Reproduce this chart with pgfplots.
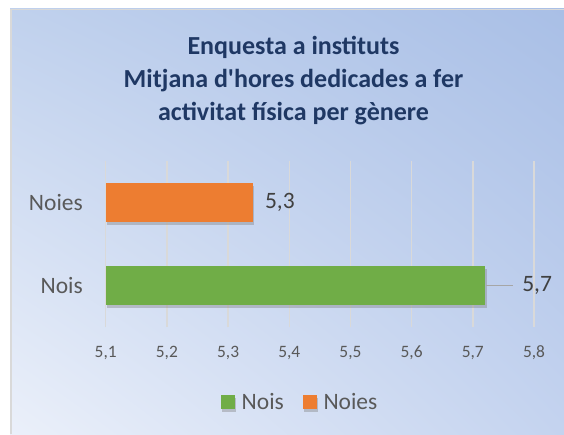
\documentclass[border=0pt]{standalone}
\usepackage{fontspec}
\setmainfont{Carlito}[Ligatures=TeXOff]
\usepackage{pgfplots}
\pgfplotsset{compat=1.18}
\usetikzlibrary{shadings,shadows}
\definecolor{nois}{HTML}{70AD47}
\definecolor{noies}{HTML}{ED7D31}
\definecolor{titol}{HTML}{1F3864}
\definecolor{txt}{HTML}{595959}
\definecolor{val}{HTML}{404040}
\definecolor{gridc}{HTML}{D9D9D9}
\definecolor{leader}{HTML}{A6A6A6}
\definecolor{bgUL}{HTML}{C0D1ED}
\definecolor{bgUR}{HTML}{A9BFE6}
\definecolor{bgLL}{HTML}{EBF0FA}
\definecolor{bgLR}{HTML}{C4D3EF}
\begin{document}
\begin{tikzpicture}[x=1pt,y=1pt]
\useasboundingbox (0pt,0pt) rectangle (564pt,434pt);
\fill[white] (0pt,0pt) rectangle (564pt,434pt);
\shade[upper left=bgUL, upper right=bgUR, lower left=bgLL, lower right=bgLR] (10pt,0pt) rectangle (564pt,425pt);
\draw[line width=1.5pt, color=gridc] (10.75pt,0pt) -- (10.75pt,424.25pt) -- (564pt,424.25pt);
\node[anchor=base, font=\bfseries\fontsize{26}{31}\selectfont, text=titol, inner sep=0pt] at (293.5pt,379pt) {Enquesta a instituts};
\node[anchor=base, font=\bfseries\fontsize{26}{31}\selectfont, text=titol, inner sep=0pt] at (293.5pt,346.7pt) {Mitjana d'hores dedicades a fer};
\node[anchor=base, font=\bfseries\fontsize{26}{31}\selectfont, text=titol, inner sep=0pt] at (293.5pt,313.3pt) {activitat física per gènere};
\begin{axis}[
  at={(105.7pt,107pt)}, anchor=south west,
  scale only axis, width=428.3pt, height=166pt,
  xmin=5.1, xmax=5.8, ymin=-0.5, ymax=1.5,
  xtick={5.1,5.2,5.3,5.4,5.5,5.6,5.7,5.8},
  ytick={0,1}, yticklabels={Nois,Noies},
  xmajorgrids, grid style={gridc, line width=1.5pt},
  axis line style={draw=none}, tick style={draw=none},
  xticklabel style={font=\fontsize{17.4}{20}\selectfont, text=txt, anchor=north, inner sep=0pt, yshift=-18.7pt},
  yticklabel style={font=\fontsize{23.5}{28}\selectfont, text=txt, anchor=east, inner sep=0pt, xshift=-22.7pt},
  /pgf/number format/.cd, use comma, fixed, precision=1, assume math mode=true,
  /pgfplots/.cd,
  legend columns=2,
  legend style={at={(0.2685,-0.4518)}, anchor=west, draw=none, fill=none, inner sep=0pt, outer sep=0pt,
    nodes={inner sep=0pt, anchor=west, font=\fontsize{23.5}{28}\selectfont, text=txt},
    /tikz/every odd column/.append style={column sep=6.7pt},
    /tikz/every even column/.append style={column sep=18.7pt}},
]
\addplot[xbar, bar width=38.5pt, bar shift=0pt, fill=nois, draw=none,
  drop shadow={opacity=0.4, shadow xshift=1.5pt, shadow yshift=-3pt},
  legend image code/.code={\fill[nois] (0pt,-7.15pt) rectangle (14.3pt,7.15pt);},
  nodes near coords,
  nodes near coords style={anchor=west, inner sep=0pt, xshift=37pt, font=\fontsize{23.5}{28}\selectfont, text=val}]
  coordinates {(5.72,0)};
\addplot[xbar, bar width=38.5pt, bar shift=0pt, fill=noies, draw=none,
  drop shadow={opacity=0.4, shadow xshift=1.5pt, shadow yshift=-3pt},
  legend image code/.code={\fill[noies] (0pt,-7.15pt) rectangle (14.3pt,7.15pt);},
  nodes near coords,
  nodes near coords style={anchor=west, inner sep=0pt, xshift=12.3pt, font=\fontsize{23.5}{28}\selectfont, text=val}]
  coordinates {(5.34,1)};
\draw[leader, line width=1.4pt] ([xshift=1pt]axis cs:5.72,0) -- ([xshift=27.6pt]axis cs:5.72,0);
\legend{Nois,Noies}
\end{axis}
\end{tikzpicture}
\end{document}
